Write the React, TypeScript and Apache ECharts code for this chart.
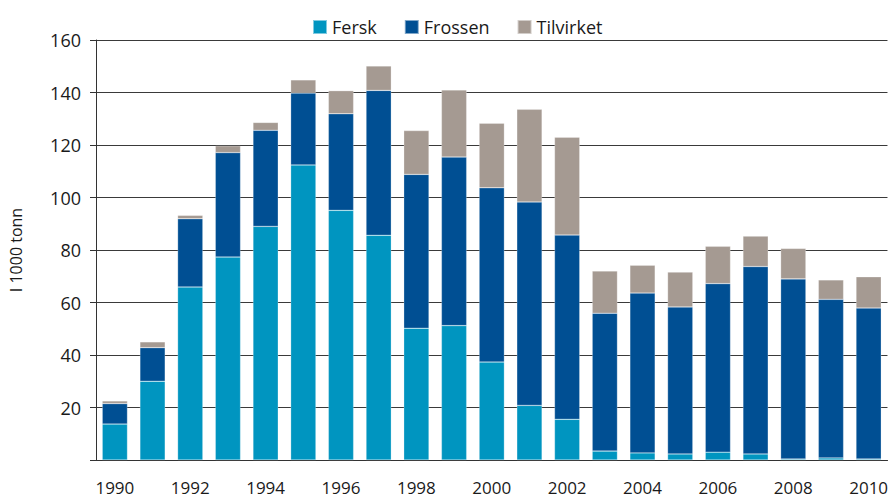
import React, { useEffect, useRef } from "react";
import * as echarts from "echarts";

const years = ["1990","1991","1992","1993","1994","1995","1996","1997","1998","1999","2000","2001","2002","2003","2004","2005","2006","2007","2008","2009","2010"];
// stacked segment values (thousand tonnes)
const fersk = [13.7, 30.0, 65.9, 77.3, 89.0, 112.4, 95.1, 85.6, 50.2, 51.2, 37.3, 20.8, 15.5, 3.4, 2.7, 2.3, 3.0, 2.3, 0.4, 0.8, 0.4];
const frossenTop = [21.5, 42.8, 91.9, 117.1, 125.6, 139.8, 131.9, 140.8, 108.8, 115.4, 103.7, 98.3, 85.7, 55.9, 63.6, 58.3, 67.2, 73.7, 69.0, 61.2, 57.9];
const totalTop = [22.5, 45.0, 93.2, 119.7, 128.6, 144.8, 140.7, 150.1, 125.5, 141.0, 128.3, 133.6, 123.0, 72.0, 74.2, 71.6, 81.4, 85.3, 80.6, 68.6, 69.8];
const frossen = frossenTop.map((v, i) => +(v - fersk[i]).toFixed(1));
const tilvirket = totalTop.map((v, i) => +(v - frossenTop[i]).toFixed(1));
const yTicks = [0, 20, 40, 60, 80, 100, 120, 140, 160];

export default function App() {
  const ref = useRef<HTMLDivElement>(null);
  useEffect(() => {
    if (!ref.current) return;
    const chart = echarts.init(ref.current, null, { renderer: "svg" });
    const font = "'Open Sans', 'DejaVu Sans', sans-serif";
    const barStyle = (color: string) => ({ color, borderColor: "rgba(255,255,255,0.5)", borderWidth: 0.5 });
    chart.setOption({
      animation: false,
      textStyle: { fontFamily: font },
      legend: {
        top: 13,
        left: 307,
        itemWidth: 14,
        itemHeight: 14,
        itemGap: 27,
        icon: "rect",
        textStyle: { fontSize: 18, color: "#1a1a1a", fontFamily: font },
        data: ["Fersk", "Frossen", "Tilvirket"],
      },
      grid: { left: 96, right: 0, top: 40, bottom: 40, containLabel: false },
      xAxis: {
        type: "category",
        data: years,
        boundaryGap: true,
        axisLine: { lineStyle: { color: "#333", width: 1 } },
        axisTick: { show: false },
        axisLabel: { interval: 1, fontSize: 17, color: "#1a1a1a", margin: 19, fontFamily: font },
      },
      yAxis: {
        type: "value",
        min: yTicks[0],
        max: yTicks[yTicks.length - 1],
        interval: 20,
        name: "I 1000 tonn",
        nameLocation: "middle",
        nameGap: 72,
        nameTextStyle: { fontSize: 16, color: "#1a1a1a", fontFamily: font },
        axisLine: { show: true, lineStyle: { color: "#333", width: 1 } },
        axisTick: { show: true, length: 6, lineStyle: { color: "#333" } },
        axisLabel: {
          fontSize: 18,
          color: "#1a1a1a",
          margin: 15,
          fontFamily: font,
          formatter: (v: number) => (v === 0 ? "" : String(v)),
        },
        splitLine: { lineStyle: { color: "#3a3a3a", width: 1 } },
      },
      series: [
        { name: "Fersk", type: "bar", stack: "t", data: fersk, barCategoryGap: "33%", itemStyle: barStyle("#0095c0") },
        { name: "Frossen", type: "bar", stack: "t", data: frossen, itemStyle: barStyle("#004f93") },
        { name: "Tilvirket", type: "bar", stack: "t", data: tilvirket, itemStyle: barStyle("#a59a92") },
      ],
    });
    return () => chart.dispose();
  }, []);
  return <div ref={ref} style={{ width: 891, height: 500, position: "absolute", left: 0, top: 0, background: "#fff" }} />;
}
